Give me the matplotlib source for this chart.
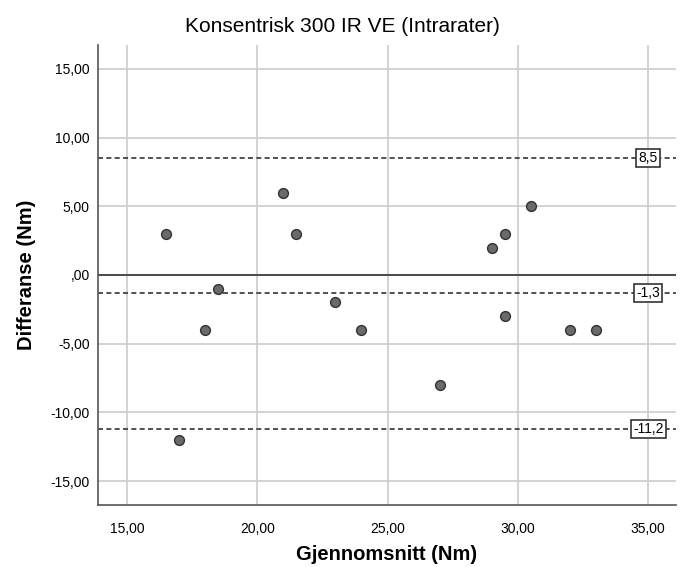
import numpy as np
import matplotlib.pyplot as plt

plt.rcParams['font.family'] = ['Liberation Sans', 'DejaVu Sans']

# Bland-Altman data
mean_vals = [16.5, 17.0, 18.0, 18.5, 21.0, 21.5, 23.0, 24.0, 27.0, 29.0, 29.5, 29.5, 30.5, 32.0, 33.0]
diff_vals = [3, -12, -4, -1, 6, 3, -2, -4, -8, 2, 3, -3, 5, -4, -4]
limit_vals = [8.5, -1.3, -11.2]
limit_labels = ['8,5', '-1,3', '-11,2']
x_ticks = [15, 20, 25, 30, 35]
y_ticks = [15, 10, 5, 0, -5, -10, -15]


def comma_fmt(v):
    s = f'{v:.2f}'.replace('.', ',')
    if s == '0,00':
        s = ',00'
    return s


fig = plt.figure(figsize=(6.85, 5.67), dpi=100)
ax = fig.add_axes([0.143, 0.109, 0.844, 0.812])

ax.set_xlim(13.89, 36.07)
ax.set_ylim(-16.75, 16.75)

ax.set_xticks(x_ticks)
ax.set_xticklabels([comma_fmt(v) for v in x_ticks])
ax.set_yticks(y_ticks)
ax.set_yticklabels([comma_fmt(v) for v in y_ticks])
ax.grid(True, color='#cccccc', linewidth=1.2)
ax.set_axisbelow(True)
ax.tick_params(axis='x', length=0, labelsize=10, pad=12)
ax.tick_params(axis='y', length=0, labelsize=10, pad=6)

for side in ['top', 'right']:
    ax.spines[side].set_visible(False)
for side in ['left', 'bottom']:
    ax.spines[side].set_color('#555555')
    ax.spines[side].set_linewidth(1.2)

ax.axhline(0, color='#333333', linewidth=1.2)
for v, lab in zip(limit_vals, limit_labels):
    ax.axhline(v, color='#333333', linewidth=1.2, linestyle=(0, (3, 2)))
    ax.text(35, v, lab, ha='center', va='center', fontsize=10,
            bbox=dict(boxstyle='square,pad=0.15', facecolor='white', edgecolor='#333333', linewidth=1.2))

ax.scatter(mean_vals, diff_vals, s=50, color='#6a6a6a', edgecolor='#333333', linewidth=1, zorder=3)

ax.set_xlabel('Gjennomsnitt (Nm)', fontsize=14.5, fontweight='bold', va='top')
ax.xaxis.set_label_coords(0.5, -0.086)
ax.set_ylabel('Differanse (Nm)', fontsize=14.5, fontweight='bold', labelpad=10)
fig.suptitle('Konsentrisk 300 IR VE (Intrarater)', fontsize=15, y=0.97)

fig.savefig('out.png', dpi=100)
